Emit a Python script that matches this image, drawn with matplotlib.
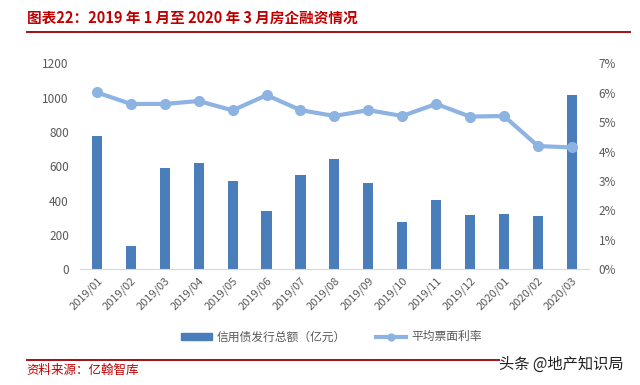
import matplotlib
matplotlib.use("Agg")
import matplotlib.pyplot as plt
from matplotlib.lines import Line2D
from matplotlib.patches import Patch
import numpy as np

plt.rcParams['font.family'] = ['Noto Sans CJK SC', 'DejaVu Sans']

months = ["2019/01", "2019/02", "2019/03", "2019/04", "2019/05", "2019/06", "2019/07",
          "2019/08", "2019/09", "2019/10", "2019/11", "2019/12", "2020/01", "2020/02", "2020/03"]
issuance = [776, 136, 588, 617, 516, 341, 549, 644, 501, 277, 402, 316, 320, 310, 1017]
coupon_rate = [6.01, 5.62, 5.62, 5.72, 5.40, 5.92, 5.41, 5.21, 5.41, 5.21, 5.62, 5.19, 5.21, 4.19, 4.14]

bar_color = '#4a7ebb'
line_color = '#8db3e2'
tick_color = '#595959'
red = '#c00000'

fig = plt.figure(figsize=(6.4, 3.85), dpi=100)
ax = fig.add_axes([0.125, 0.3005, 0.795, 0.535])
ax2 = ax.twinx()

x = np.arange(len(months))
ax.bar(x, issuance, width=0.3, color=bar_color, zorder=2)
ax2.plot(x, coupon_rate, color=line_color, lw=3, marker='o', ms=7, zorder=3)

ax.set_xlim(-0.5, len(months) - 0.5)
ax.set_ylim(0, 1200)
ax.set_yticks(np.arange(0, 1201, 200))
ax2.set_ylim(0, 7)
ax2.set_yticks(np.arange(0, 8, 1))
ax2.set_yticklabels([f"{v}%" for v in range(8)])

ax.set_xticks(x)
ax.set_xticklabels(months, rotation=45, ha='right', rotation_mode='anchor')

for a in (ax, ax2):
    for s in a.spines.values():
        s.set_visible(False)
    a.tick_params(length=0, colors=tick_color, labelsize=8.5)
ax.spines['bottom'].set_visible(True)
ax.spines['bottom'].set_color('#d9d9d9')
ax.tick_params(axis='x', pad=4, labelsize=8)
ax.tick_params(axis='y', pad=8)
ax2.tick_params(axis='y', pad=7)

handles = [Patch(color=bar_color), Line2D([0], [0], color=line_color, lw=3, marker='o', ms=5)]
fig.legend(handles, ["信用债发行总额（亿元）", "平均票面利率"], loc='center',
           bbox_to_anchor=(0.518, 0.125), ncol=2, frameon=False, fontsize=8.5,
           labelcolor=tick_color, handlelength=2.6, handletextpad=0.45,
           columnspacing=2.5, handleheight=0.5)

fig.text(0.042, 0.953, "图表22：2019 年 1 月至 2020 年 3 月房企融资情况", color=red,
         fontsize=10.5, fontweight='bold', ha='left', va='center')
fig.add_artist(Line2D([0.042, 0.984], [0.918, 0.918], color='#a50f15', lw=1.4))
fig.add_artist(Line2D([0.042, 0.78], [0.065, 0.065], color='#a50f15', lw=1.4))
fig.text(0.042, 0.039, "资料来源：亿翰智库", color=red, fontsize=9, ha='left', va='center')
fig.text(0.975, 0.055, "头条 @地产知识局", color='#222222', fontsize=11, ha='right', va='center',
         bbox=dict(boxstyle='square,pad=0.05', fc='white', ec='none', alpha=0.0))

fig.savefig("out.png", dpi=100)
